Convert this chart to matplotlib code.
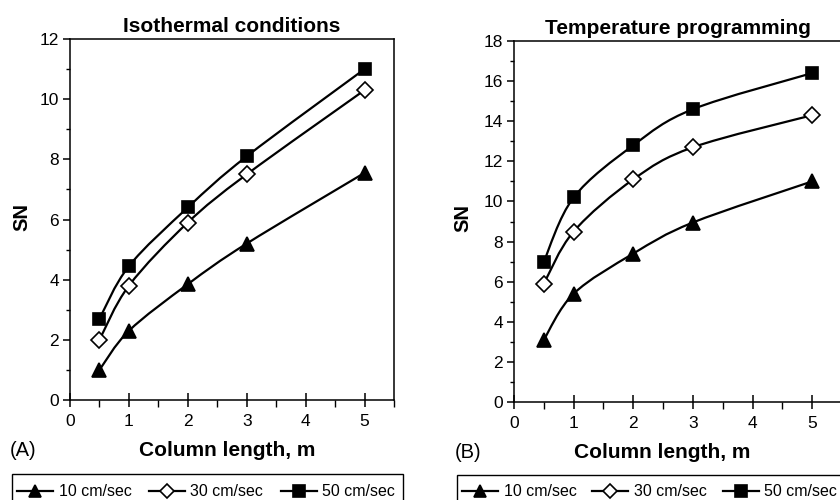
import matplotlib
matplotlib.use('Agg')
import matplotlib.pyplot as plt
import numpy as np
from matplotlib.path import Path
from matplotlib.patches import PathPatch, Rectangle
from matplotlib.lines import Line2D
from matplotlib.ticker import MultipleLocator

plt.rcParams['font.family'] = ['Liberation Sans', 'DejaVu Sans']

# column length, m
length = [0.5, 1, 2, 3, 5]
series_names = ['10 cm/sec', '30 cm/sec', '50 cm/sec']

# (A) isothermal conditions
iso_10 = [1.0, 2.3, 3.85, 5.2, 7.55]
iso_30 = [2.0, 3.8, 5.9, 7.5, 10.3]
iso_50 = [2.7, 4.45, 6.4, 8.1, 11.0]

# (B) temperature programming
tp_10 = [3.1, 5.4, 7.4, 8.95, 11.0]
tp_30 = [5.9, 8.5, 11.1, 12.7, 14.3]
tp_50 = [7.0, 10.2, 12.8, 14.6, 16.4]

markers = ['^', 'D', 's']
mfaces = ['black', 'white', 'black']
msizes = [9.5, 8, 9.2]


def smooth_path(x, y):
    # excel-like smoothed line: cubic bezier through the points
    pts = np.column_stack([x, y]).astype(float)
    n = len(pts)
    verts = [pts[0]]
    codes = [Path.MOVETO]
    for i in range(n - 1):
        p0 = pts[max(i - 1, 0)]
        p1 = pts[i]
        p2 = pts[i + 1]
        p3 = pts[min(i + 2, n - 1)]
        c1 = p1 + (p2 - p0) / 6.0
        c2 = p2 - (p3 - p1) / 6.0
        verts += [c1, c2, p2]
        codes += [Path.CURVE4] * 3
    return Path(verts, codes)


def draw_panel(ax, data, ymax, title):
    for k, ys in enumerate(data):
        patch = PathPatch(smooth_path(length, ys), facecolor='none',
                          edgecolor='black', lw=1.6, transform=ax.transData,
                          zorder=2)
        ax.add_patch(patch)
        ax.plot(length, ys, linestyle='none', marker=markers[k],
                markersize=msizes[k], markerfacecolor=mfaces[k],
                markeredgecolor='black', markeredgewidth=1.2, zorder=3,
                clip_on=False)
    ax.set_xlim(0, 5.5)
    ax.set_ylim(0, ymax)
    ax.set_xticks([0, 1, 2, 3, 4, 5])
    ax.xaxis.set_minor_locator(MultipleLocator(0.5))
    ax.yaxis.set_minor_locator(MultipleLocator(1))
    ax.tick_params(axis='x', which='major', direction='inout', length=10,
                   width=1.1, labelsize=12.5, pad=5)
    ax.tick_params(axis='x', which='minor', direction='out', length=5,
                   width=1.0)
    ax.tick_params(axis='y', which='major', direction='out', length=5,
                   width=1.1, labelsize=12.5, pad=3)
    ax.tick_params(axis='y', which='minor', direction='out', length=3,
                   width=1.0)
    for s in ax.spines.values():
        s.set_linewidth(1.1)
    ax.set_title(title, fontsize=15, fontweight='bold', pad=5)


fig = plt.figure(figsize=(8.4, 5.0), dpi=100)

ax1 = fig.add_axes([70 / 840, 0.2, 324 / 840, 0.722])
draw_panel(ax1, [iso_10, iso_30, iso_50], 12, 'Isothermal conditions')
ax1.set_yticks(range(0, 13, 2))

ax2 = fig.add_axes([514 / 840, 0.196, 328 / 840, 0.722])
draw_panel(ax2, [tp_10, tp_30, tp_50], 18, 'Temperature programming')
ax2.set_yticks(range(0, 19, 2))

# axis labels and panel letters
fig.text(22 / 840, 1 - 217 / 500, 'SN', rotation=90, fontsize=14.5,
         fontweight='bold', ha='center', va='center')
fig.text(463 / 840, 1 - 218 / 500, 'SN', rotation=90, fontsize=14.5,
         fontweight='bold', ha='center', va='center')
fig.text(227 / 840, 1 - 450 / 500, 'Column length, m', fontsize=15,
         fontweight='bold', ha='center', va='center')
fig.text(662 / 840, 1 - 453 / 500, 'Column length, m', fontsize=15,
         fontweight='bold', ha='center', va='center')
fig.text(10 / 840, 1 - 450 / 500, '(A)', fontsize=14.5, ha='left',
         va='center')
fig.text(455 / 840, 1 - 453 / 500, '(B)', fontsize=14.5, ha='left',
         va='center')

handles = [Line2D([0], [0], color='black', lw=1.6, marker=markers[k],
                  markersize=msizes[k] - 0.5, markerfacecolor=mfaces[k],
                  markeredgecolor='black', markeredgewidth=1.2)
           for k in range(3)]

# legend boxes run off the bottom of the figure, as in the original
for box_x, box_w, box_top, entry_x, colsp in [(12, 391, 474, 17, 1.1),
                                              (457, 400, 475, 462, 1.0)]:
    fig.patches.append(Rectangle((box_x / 840, -0.1),
                                 box_w / 840, 1.1 - box_top / 500,
                                 transform=fig.transFigure, fill=False,
                                 edgecolor='black', lw=1.0))
    fig.legend(handles, series_names, loc='center left',
               bbox_to_anchor=(entry_x / 840, 1 - 492 / 500), ncol=3,
               fontsize=11.5, frameon=False, handlelength=2.25,
               handletextpad=0.35, columnspacing=colsp,
               borderpad=0, borderaxespad=0)

fig.savefig('out.png', dpi=100)
